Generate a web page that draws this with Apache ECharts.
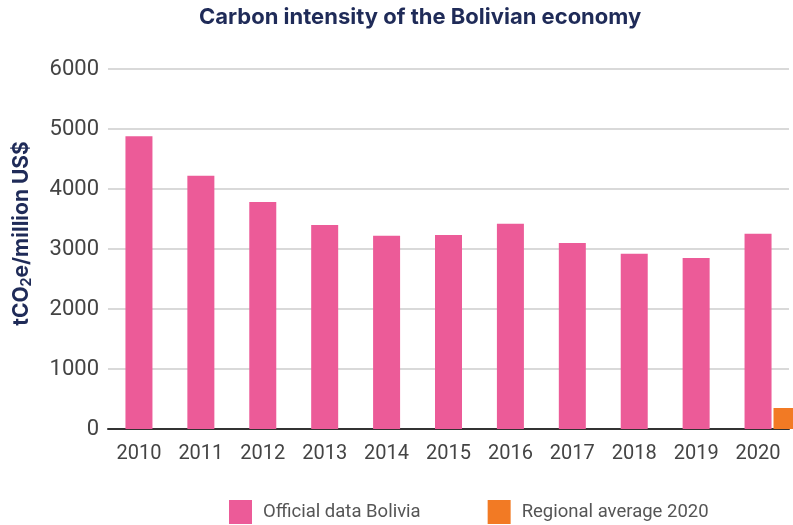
<!DOCTYPE html>
<html>
<head>
<meta charset="utf-8">
<script src="https://cdn.jsdelivr.net/npm/echarts@6/dist/echarts.min.js"></script>
<style>
  html, body { margin: 0; padding: 0; background: #ffffff; }
  #chart { width: 793px; height: 525px; }
</style>
</head>
<body>
<div id="chart"></div>
<script>
// Carbon intensity (tCO2e per million US$)
const years = ['2010', '2011', '2012', '2013', '2014', '2015', '2016', '2017', '2018', '2019', '2020'];
const officialBolivia = [4880, 4220, 3785, 3400, 3220, 3235, 3420, 3100, 2920, 2850, 3255];
const regionalAverage = ['-', '-', '-', '-', '-', '-', '-', '-', '-', '-', 350];
const yTicks = { min: 0, max: 6000, interval: 1000 };

const PINK = '#EC5B98';
const ORANGE = '#F27A24';
const NAVY = '#1F2B58';
const FONT = 'Roboto, "Liberation Sans", sans-serif';
const HEAD = 'Inter, "Liberation Sans", Arial, sans-serif';

const chart = echarts.init(document.getElementById('chart'), null, { renderer: 'canvas' });

chart.setOption({
  animation: false,
  backgroundColor: '#ffffff',
  title: {
    text: 'Carbon intensity of the Bolivian economy',
    left: 199,
    top: 6,
    padding: 0,
    textStyle: { fontFamily: HEAD, fontSize: 22, fontWeight: 'bold', color: NAVY }
  },
  legend: {
    left: 229,
    top: 500,
    padding: 0,
    itemWidth: 23,
    itemHeight: 24,
    itemGap: 67,
    icon: 'rect',
    data: ['Official data Bolivia', 'Regional average 2020'],
    textStyle: { fontFamily: FONT, fontSize: 18.5, color: '#555555', padding: [0, 0, 0, 6] }
  },
  grid: [
    { left: 108, right: 4, top: 69, bottom: 96, containLabel: false },
    // companion grid whose last category sits at its right edge, holding the regional bar beside 2020
    { left: 108, right: 6, top: 69, bottom: 96, containLabel: false }
  ],
  xAxis: [
    {
      type: 'category',
      gridIndex: 0,
      data: years,
      axisTick: { show: false },
      axisLine: { lineStyle: { color: '#333333', width: 2 } },
      axisLabel: { fontFamily: FONT, fontSize: 20, color: '#444444', margin: 15 }
    },
    { type: 'category', gridIndex: 1, data: years, boundaryGap: false, show: false }
  ],
  yAxis: [
    {
      type: 'value',
      gridIndex: 0,
      min: yTicks.min,
      max: yTicks.max,
      interval: yTicks.interval,
      name: '{a|tCO}{s|2}{a|e/million US$}',
      nameLocation: 'middle',
      nameGap: 74,
      nameTextStyle: {
        padding: [0, 0, 0, 31],
        rich: {
          a: { fontFamily: HEAD, fontSize: 21, fontWeight: 'bold', color: NAVY },
          s: { fontFamily: HEAD, fontSize: 14, fontWeight: 'bold', color: NAVY, padding: [10, 0, 0, 0] }
        }
      },
      axisLine: { show: false },
      axisTick: { show: false },
      axisLabel: { fontFamily: FONT, fontSize: 22, color: '#444444', margin: 9, formatter: v => String(v) },
      splitLine: { lineStyle: { color: '#d9d9d9', width: 2 } }
    },
    { type: 'value', gridIndex: 1, min: yTicks.min, max: yTicks.max, interval: yTicks.interval, show: false }
  ],
  series: [
    {
      name: 'Official data Bolivia',
      type: 'bar',
      xAxisIndex: 0,
      yAxisIndex: 0,
      data: officialBolivia,
      barWidth: 27,
      itemStyle: { color: PINK },
      z: 2
    },
    {
      name: 'Regional average 2020',
      type: 'bar',
      xAxisIndex: 1,
      yAxisIndex: 1,
      data: regionalAverage,
      barWidth: 27,
      itemStyle: { color: ORANGE },
      z: 2
    }
  ]
});
</script>
</body>
</html>
